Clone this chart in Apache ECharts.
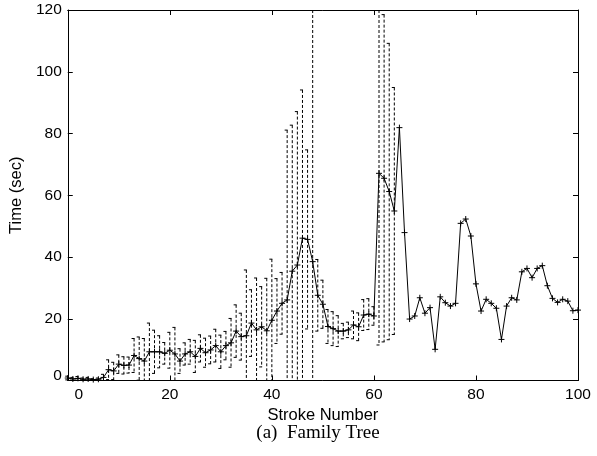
<!DOCTYPE html>
<html><head><meta charset="utf-8">
<script src="https://cdn.jsdelivr.net/npm/echarts@6/dist/echarts.min.js"></script>
<style>html,body{margin:0;padding:0;background:#fff}#c{width:597px;height:456px}</style>
</head><body><div id="c"></div>
<script>
// Stroke numbers (x)
const strokes = [0,1,2,3,4,5,6,7,8,9,10,11,12,13,14,15,16,17,18,19,20,21,22,23,24,25,26,27,28,29,30,
  31,32,33,34,35,36,37,38,39,40,41,42,43,44,45,46,47,48,49,50,51,52,53,54,55,56,57,58,59,60,
  61,62,63,64,65,66,67,68,69,70,71,72,73,74,75,76,77,78,79,80,81,82,83,84,85,86,87,88,89,90,
  91,92,93,94,95,96,97,98,99,100];
// Mean time (sec) per stroke
const times = [0.8,0.5,0.7,0.4,0.5,0.3,0.4,1.0,3.5,3.1,5.3,4.9,5.0,8.1,7.1,6.3,9.3,9.3,9.3,8.8,9.8,
  8.6,6.3,8.6,9.3,7.8,10.4,9.0,9.9,11.3,9.3,11.3,12.2,16.0,14.2,14.5,18.6,16.4,17.4,16.1,19.5,
  22.5,25.0,26.1,35.4,37.4,46.1,45.7,38.5,27.6,24.7,17.5,16.8,16.0,16.0,16.4,18.0,17.4,21.2,21.5,20.9,
  67.1,65.5,61.2,54.9,81.9,47.9,19.9,20.9,26.8,21.8,23.6,10.1,27.1,25.2,24.1,25.0,50.9,52.3,46.8,31.3,
  22.5,26.3,25.0,23.4,13.3,24.1,26.8,26.1,35.2,36.3,33.3,36.3,37.2,30.7,26.6,25.3,26.3,25.7,22.6,22.8];
// Error bar half-lengths (strokes 0..64)
const errors = [0.6,0.5,0.6,0.4,0.5,0.3,0.4,1.0,3.2,2.8,3.0,2.8,2.6,5.5,7.0,7.3,9.3,7.0,5.2,3.5,5.8,
  8.6,4.0,3.6,4.0,5.2,4.4,4.7,4.5,5.3,5.4,4.6,7.9,8.5,7.6,21.3,10.8,16.8,13.0,17.0,19.8,
  10.5,10.0,55.0,47.3,49.7,48.0,29.0,90.0,11.6,7.8,5.5,5.5,5.0,2.5,2.5,4.5,4.5,5.0,5.0,3.0,
  55.6,53.0,48.0,40.0];
const xTicks = [0,20,40,60,80,100];
const yTicks = [0,20,40,60,80,100,120];

const lineData = strokes.map((s,i)=>[s,times[i]]);
const errData = errors.map((e,i)=>[strokes[i], times[i]-e, times[i]+e]);

const FONT = 'Liberation Sans, Arial, sans-serif';
const chart = echarts.init(document.getElementById('c'), null, {renderer:'canvas'});

const axisCommon = {
  type:'value',
  axisLine:{show:true, onZero:false, lineStyle:{color:'#000', width:1}},
  axisTick:{show:true, inside:true, length:5, lineStyle:{color:'#000', width:1}},
  splitLine:{show:false},
  axisLabel:{color:'#000', fontSize:15.5, fontFamily:FONT}
};

chart.setOption({
  animation:false,
  backgroundColor:'#fff',
  grid:{left:66, right:19, top:10, bottom:75.5, containLabel:false},
  xAxis:[
    Object.assign({}, axisCommon, {
      min:xTicks[0], max:xTicks[xTicks.length-1], interval:xTicks[1]-xTicks[0], position:'bottom',
      name:'Stroke Number', nameLocation:'middle', nameGap:21,
      nameTextStyle:{color:'#000', fontSize:16.5, fontFamily:FONT},
      axisLabel:{color:'#000', fontSize:15.5, fontFamily:FONT, margin:6,
        formatter:v=> v===0 ? '{z|0}' : String(v),
        rich:{z:{fontSize:15.5, fontFamily:FONT, color:'#000', padding:[0,0,0,22]}}}
    }),
    Object.assign({}, axisCommon, {
      min:xTicks[0], max:xTicks[xTicks.length-1], interval:xTicks[1]-xTicks[0], position:'top',
      axisLabel:{show:false}
    })
  ],
  yAxis:[
    Object.assign({}, axisCommon, {
      min:yTicks[0], max:yTicks[yTicks.length-1], interval:yTicks[1]-yTicks[0], position:'left',
      name:'Time (sec)', nameLocation:'middle', nameGap:34,
      nameTextStyle:{color:'#000', fontSize:16.5, fontFamily:FONT},
      axisLabel:{color:'#000', fontSize:15.5, fontFamily:FONT, margin:6,
        formatter:v=> v===0 ? '{z|0}' : String(v),
        rich:{z:{fontSize:15.5, fontFamily:FONT, color:'#000', padding:[0,0,10,0]}}}
    }),
    Object.assign({}, axisCommon, {
      min:yTicks[0], max:yTicks[yTicks.length-1], interval:yTicks[1]-yTicks[0], position:'right',
      axisLabel:{show:false}
    })
  ],
  graphic:[{type:'text', x:318, y:433,
    style:{text:'(a)  Family Tree', fontSize:19, fontFamily:'Liberation Serif, Times New Roman, serif',
      fill:'#000', textAlign:'center', textVerticalAlign:'middle'}}],
  series:[
    {
      type:'custom', name:'err', xAxisIndex:0, yAxisIndex:0,
      data:errData, encode:{x:0, y:[1,2]}, silent:true, z:1,
      renderItem:function(params, api){
        const cs = params.coordSys;
        const x = api.value(0), lo = api.value(1), hi = api.value(2);
        const pT = api.coord([x, hi]), pB = api.coord([x, lo]);
        const yTop = Math.max(pT[1], cs.y), yBot = Math.min(pB[1], cs.y + cs.height);
        const xp = pT[0];
        const st = {stroke:'#000', lineWidth:1, lineDash:[3,2], fill:null};
        const ch = [{type:'line', shape:{x1:xp, y1:yTop, x2:xp, y2:yBot}, style:st}];
        if (pT[1] >= cs.y) ch.push({type:'line', shape:{x1:xp-2.5, y1:pT[1], x2:xp+2.5, y2:pT[1]}, style:st});
        if (pB[1] <= cs.y + cs.height) ch.push({type:'line', shape:{x1:xp-2.5, y1:pB[1], x2:xp+2.5, y2:pB[1]}, style:st});
        return {type:'group', children:ch};
      }
    },
    {
      type:'line', name:'time', xAxisIndex:0, yAxisIndex:0, data:lineData,
      showSymbol:false, symbol:'none', lineStyle:{color:'#000', width:1}, z:3
    },
    {
      type:'custom', name:'marks', xAxisIndex:0, yAxisIndex:0, data:lineData, z:4, silent:true,
      renderItem:function(params, api){
        const p = api.coord([api.value(0), api.value(1)]);
        const st = {stroke:'#000', lineWidth:1, fill:null};
        const r = 3;
        return {type:'group', children:[
          {type:'line', shape:{x1:p[0]-r, y1:p[1], x2:p[0]+r, y2:p[1]}, style:st},
          {type:'line', shape:{x1:p[0], y1:p[1]-r, x2:p[0], y2:p[1]+r}, style:st}
        ]};
      }
    }
  ]
});
</script></body></html>
